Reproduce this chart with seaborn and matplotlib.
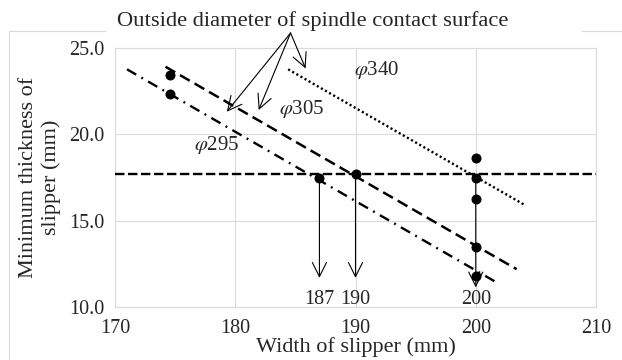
import numpy as np
import pandas as pd
import matplotlib
matplotlib.use("Agg")
import matplotlib.pyplot as plt
from matplotlib.lines import Line2D
import seaborn as sns

# 数据
line_names = ["φ295", "φ305", "φ340"]
line_x = [[171.0, 201.7], [174.2, 203.4], [184.4, 204.1]]
line_y = [[23.75, 11.45], [23.9, 12.2], [23.75, 15.9]]
limit_y = 17.7

pts_x = [174.6, 174.6, 187, 190, 200, 200, 200, 200, 200]
pts_y = [23.45, 22.3, 17.45, 17.7, 18.65, 17.5, 16.25, 13.5, 11.8]

drop_x = [187, 190, 200]
drop_top = [17.45, 17.7, 17.5]
drop_end = [11.7, 11.7, 11.15]
drop_labels = ["187", "190", "200"]

label_pos = {"φ295": (178.5, 19.4), "φ305": (185.5, 21.45), "φ340": (191.8, 23.7)}
title_tip = (184.6, 25.85)
title_targets = [(179.3, 21.3), (181.95, 21.4), (185.85, 23.8)]

sns.set_style("whitegrid", {"grid.color": "#d9d9d9", "axes.edgecolor": "#d9d9d9"})
plt.rcParams["font.family"] = ["Liberation Serif", "DejaVu Serif"]
plt.rcParams["mathtext.fontset"] = "stix"
plt.rcParams["font.size"] = 14.5

fig = plt.figure(figsize=(6.22, 3.6), dpi=100)
ax = fig.add_axes([115 / 622, 1 - 307.3 / 360, (596 - 115) / 622, (307.3 - 47.7) / 360])

df = pd.DataFrame({
    "x": [v for xs in line_x for v in xs],
    "y": [v for ys in line_y for v in ys],
    "name": [n for n in line_names for _ in range(2)],
})
styles = {"φ295": (4.5, 2.5, 0.8, 2.5), "φ305": (4.5, 2.2), "φ340": (0.9, 1.1)}
widths = {"φ295": 1.7, "φ305": 1.8, "φ340": 1.7}
for name in line_names:
    sub = df[df["name"] == name]
    sns.lineplot(data=sub, x="x", y="y", ax=ax, color="black", lw=widths[name],
                 dashes=False, legend=False, zorder=3).lines[-1].set_dashes(styles[name])

ax.axhline(limit_y, color="black", lw=1.7, dashes=(4, 1.5), zorder=3)

# 竖直箭头
for x0, y0, y1, lab in zip(drop_x, drop_top, drop_end, drop_labels):
    ax.annotate("", xy=(x0, y1), xytext=(x0, y0),
                arrowprops=dict(arrowstyle="->,head_length=0.7,head_width=0.35",
                                lw=0.8, color="black", shrinkA=0, shrinkB=0))
    ax.text(x0, 10.47, lab, ha="center", va="center")

sns.scatterplot(x=pts_x, y=pts_y, ax=ax, color="black", s=52, edgecolor="black",
                linewidth=0, zorder=5)

for name in line_names:
    px, py = label_pos[name]
    ax.text(px, py, r"$\varphi$" + name[1:], ha="center", va="center", fontsize=15)

for tx, ty in title_targets:
    ax.annotate("", xy=(tx, ty), xytext=title_tip, annotation_clip=False,
                arrowprops=dict(arrowstyle="->,head_length=0.7,head_width=0.35",
                                lw=0.8, color="black", shrinkA=0, shrinkB=0))

ax.set_xlim(170, 210)
ax.set_ylim(10, 25)
ax.set_xticks([170, 180, 190, 200, 210])
ax.set_yticks([10, 15, 20, 25])
ax.set_yticklabels([f"{v:.1f}" for v in [10, 15, 20, 25]])
ax.tick_params(axis="x", pad=5)
ax.tick_params(axis="y", pad=4)
ax.set_xlabel("Width of slipper (mm)", fontsize=16, labelpad=-1)
ax.set_ylabel("Minimum thickness of\nslipper (mm)", fontsize=16, labelpad=6, linespacing=1.25)
for s in ax.spines.values():
    s.set_linewidth(0.8)
ax.grid(lw=0.8)

fig.text(313 / 622, 1 - 21 / 360, "Outside diameter of spindle contact surface",
         ha="center", va="center", fontsize=16.2)

# 外框
fc = "#d9d9d9"
fig.add_artist(Line2D([9 / 622, 9 / 622], [0, 1 - 31 / 360], color=fc, lw=0.8))
fig.add_artist(Line2D([9 / 622, 105 / 622], [1 - 31 / 360] * 2, color=fc, lw=0.8))
fig.add_artist(Line2D([582 / 622, 1], [1 - 31 / 360] * 2, color=fc, lw=0.8))

fig.savefig("out.png", dpi=100)
